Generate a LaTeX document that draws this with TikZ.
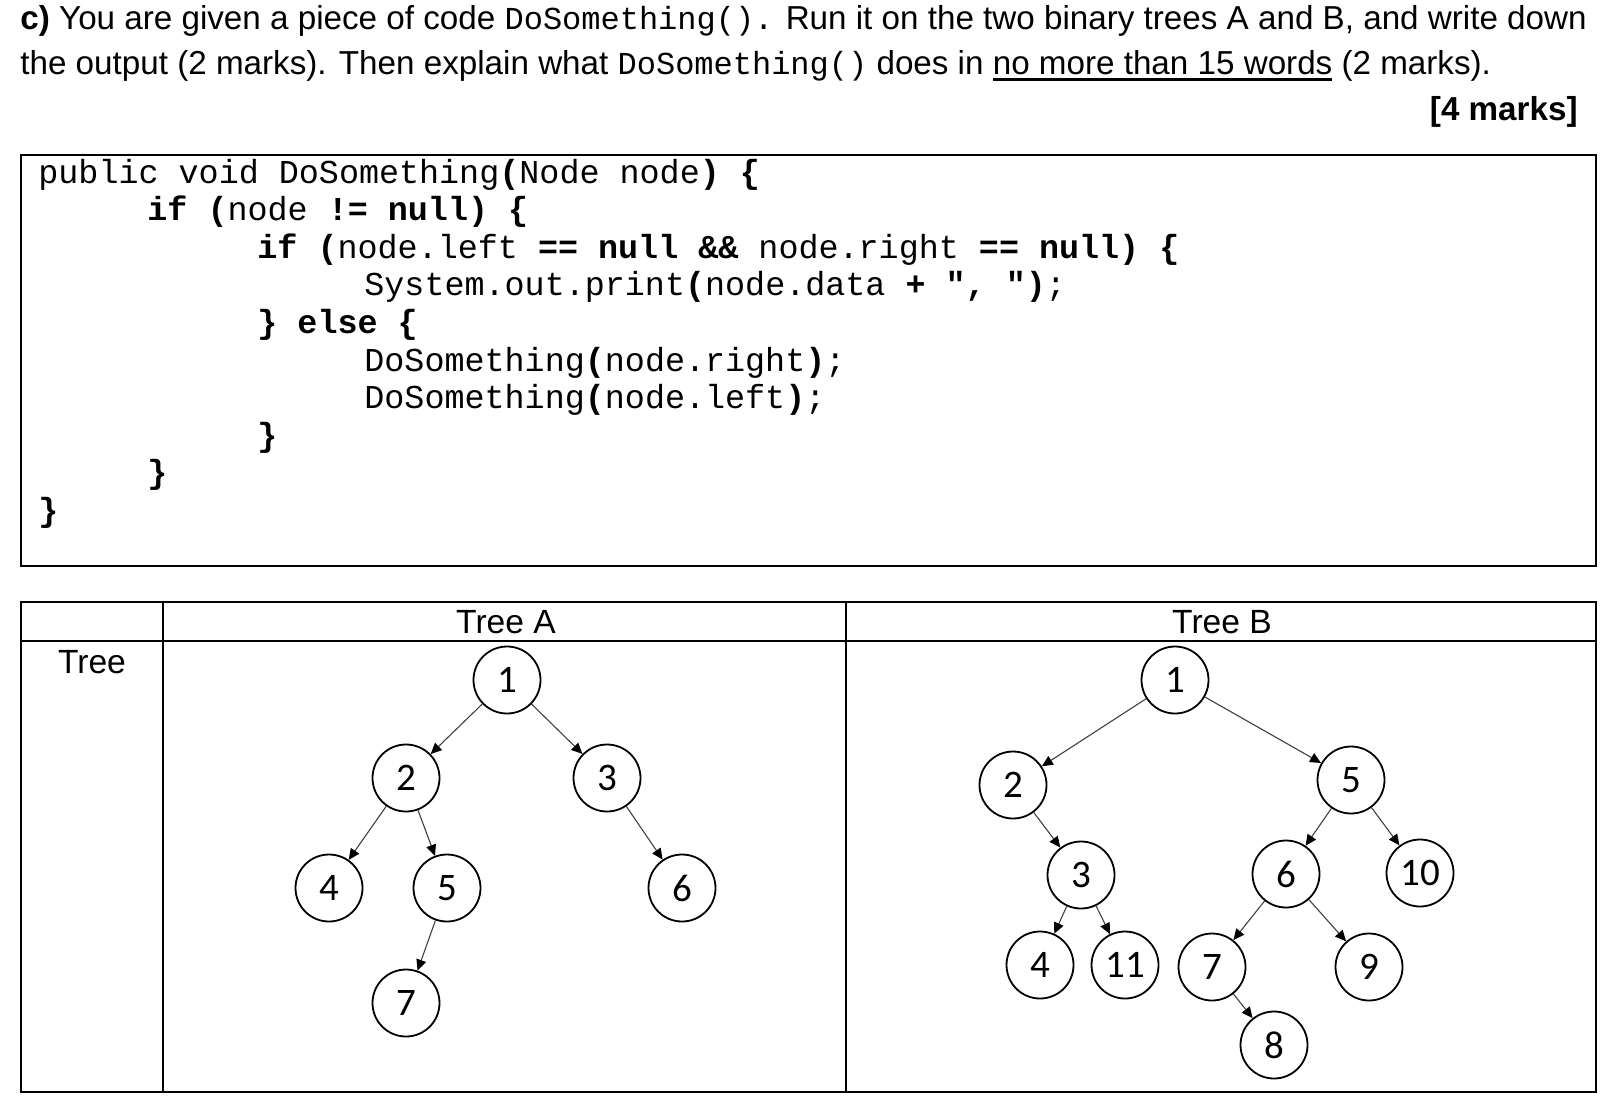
\documentclass[tikz,border=0pt]{standalone}
\usepackage{fontspec}
\setmainfont{Liberation Sans}
\setmonofont{Liberation Mono}
\newfontfamily\treefont{Carlito}
\usetikzlibrary{arrows.meta,positioning}
\newcommand{\kb}[1]{{\bfseries #1}}
\newcommand{\uln}[1]{\setbox0=\hbox{#1}\rlap{\rule[-3.05pt]{\wd0}{1.3pt}}\box0\relax}

\begin{document}
\begin{tikzpicture}[x=0.5pt, y=-0.5pt, >={Triangle[length=5.5pt,width=5pt,black]},
        line/.style = {anchor=base west, inner sep=0pt, font=\ttfamily\fontsize{16.7}{18}\selectfont},
        head/.style = {anchor=base west, inner sep=0pt, font=\fontsize{16.6}{18}\selectfont},
        cell/.style = {anchor=base, inner sep=0pt, font=\fontsize{16.8}{18}\selectfont},
       tnode/.style = {circle, draw, line width=0.9pt, minimum size=33.5pt, inner sep=0pt,
                       font=\treefont\fontsize{19.5}{19.5}\selectfont},
        edge/.style = {->, line width=0.55pt, black!75},
                            ]
    \useasboundingbox (0,0) rectangle (1610,1108);
    % question
    \node[head] (q1) at (20,29.5) {\kb{c)} You are given a piece of code {\ttfamily\fontsize{16}{18}\selectfont DoSomething().} Run it on the two binary trees A and B, and write down};
    \node[head] (q2) at (20,74.5) {the output (2 marks). Then explain what {\ttfamily\fontsize{16}{18}\selectfont DoSomething()} does in \uln{no more than 15 words} (2 marks).};
    \node[head, anchor=base east] (marks) at (1578,120.7) {\kb{[4 marks]}};
    % code
    \draw[line width=0.7pt] (21,155) rectangle (1596,566);
    \node[line] (c1)  at (38,183)    {public void DoSomething\kb{(}Node node\kb{) \{}};
    \node[line] (c2)  at (147,220.6) {\kb{if (}node \kb{!= null) \{}};
    \node[line] (c3)  at (257,258.2) {\kb{if (}node.left \kb{== null \&\&} node.right \kb{== null) \{}};
    \node[line] (c4)  at (364,295.8) {System.out.print\kb{(}node.data \kb{+ ", ")};};
    \node[line] (c5)  at (257,333.4) {\kb{\} else \{}};
    \node[line] (c6)  at (364,371)   {DoSomething\kb{(}node.right\kb{)};};
    \node[line] (c7)  at (364,408.6) {DoSomething\kb{(}node.left\kb{)};};
    \node[line] (c8)  at (257,446.2) {\kb{\}}};
    \node[line] (c9)  at (147,483.8) {\kb{\}}};
    \node[line] (c10) at (38,521.4)  {\kb{\}}};
    % table
    \draw[line width=0.7pt] (21,602) rectangle (1596,1092);
    \draw[line width=0.7pt] (21,641) -- (1596,641);
    \draw[line width=0.7pt] (163,602) -- (163,1092);
    \draw[line width=0.7pt] (846,602) -- (846,1092);
    \node[cell] (hA)   at (506,633)  {Tree A};
    \node[cell] (hB)   at (1222,633) {Tree B};
    \node[cell] (tree) at (92,673)   {Tree};
    % tree A
    \node[tnode] (a1) at (507,680)  {1};
    \node[tnode] (a2) at (406,778)  {2};
    \node[tnode] (a3) at (607,778)  {3};
    \node[tnode] (a4) at (329,888)  {4};
    \node[tnode] (a5) at (447,888)  {5};
    \node[tnode] (a6) at (682,888)  {6};
    \node[tnode] (a7) at (406,1003) {7};
    % tree B
    \node[tnode] (b1)  at (1175,680)  {1};
    \node[tnode] (b2)  at (1013,785)  {2};
    \node[tnode] (b5)  at (1351,780)  {5};
    \node[tnode] (b3)  at (1081,875)  {3};
    \node[tnode] (b6)  at (1286,874)  {6};
    \node[tnode] (b10) at (1420,873)  {10};
    \node[tnode] (b4)  at (1040,965)  {4};
    \node[tnode] (b11) at (1125,965)  {11};
    \node[tnode] (b7)  at (1212,967)  {7};
    \node[tnode] (b9)  at (1369,967)  {9};
    \node[tnode] (b8)  at (1274,1045) {8};
    %
    \foreach \p/\c in {a1/a2, a1/a3, a2/a4, a2/a5, a5/a7, a3/a6,
                       b1/b2, b1/b5, b2/b3, b3/b4, b3/b11, b5/b6, b5/b10, b6/b7, b6/b9, b7/b8}
    {
      \draw[edge] (\p) -- (\c);
    }
\end{tikzpicture}
\end{document}
